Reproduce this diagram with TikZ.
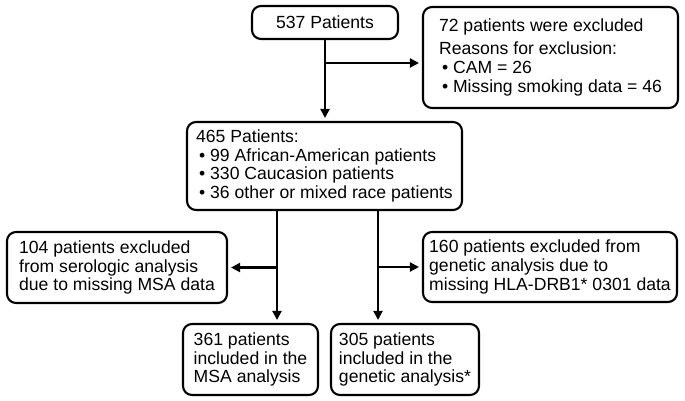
\documentclass[tikz,border=0pt]{standalone}
\usepackage{fontspec}
\setmainfont{Liberation Sans}
\usetikzlibrary{arrows.meta}
\tikzset{
  box/.style={draw, line width=2.1pt, rounded corners=9pt, align=left, inner sep=0pt,
    font=\fontsize{17.6}{18.8}\selectfont},
  arr/.style={line width=2.1pt, -{Triangle[length=9pt,width=9pt]}, shorten >=3pt},
}
\newcommand{\bl}{\hspace{3pt}\textbullet\ }
\begin{document}
\begin{tikzpicture}[x=1pt,y=-1pt]
\useasboundingbox (0,0) rectangle (685,401);
\node[box, minimum width=146pt, minimum height=33pt] (b1) at (325,22.5) {537 Patients};
\node[box, minimum width=255pt, minimum height=101pt] (b2) at (550.5,57.5)
  {72 patients were excluded\\[4pt]Reasons for exclusion:\\\bl CAM = 26\\\bl Missing smoking data = 46};
\node[box, minimum width=275pt, minimum height=88pt] (b3) at (324.5,166)
  {465 Patients:\\\bl 99 African-American patients\\\bl 330 Caucasion patients\\\bl 36 other or mixed race patients};
\node[box, minimum width=220pt, minimum height=71pt] (b4) at (117,267.5)
  {104 patients excluded\\from serologic analysis\\due to missing MSA data};
\node[box, minimum width=254pt, minimum height=70pt] (b5) at (550,267)
  {160 patients excluded from\\genetic analysis due to\\missing HLA-DRB1* 0301 data};
\node[box, minimum width=135pt, minimum height=71pt] (b6) at (250.5,359.5)
  {361 patients\\included in the\\MSA analysis};
\node[box, minimum width=148pt, minimum height=71pt] (b7) at (405,359.5)
  {305 patients\\included in the\\genetic analysis*};
\coordinate (j1) at (325,63);
\coordinate (lx) at (277,0);
\coordinate (rx) at (378,0);
\draw[arr] (b1.south) -- (b1.south |- b3.north);
\draw[arr] (b1.south |- j1) -- (b2.west |- j1);
\draw[arr] (lx |- b3.south) -- (lx |- b6.north);
\draw[arr] (lx |- b4.east) -- (b4.east);
\draw[arr] (rx |- b3.south) -- (rx |- b7.north);
\draw[arr] (rx |- b5.west) -- (b5.west);
\end{tikzpicture}
\end{document}
